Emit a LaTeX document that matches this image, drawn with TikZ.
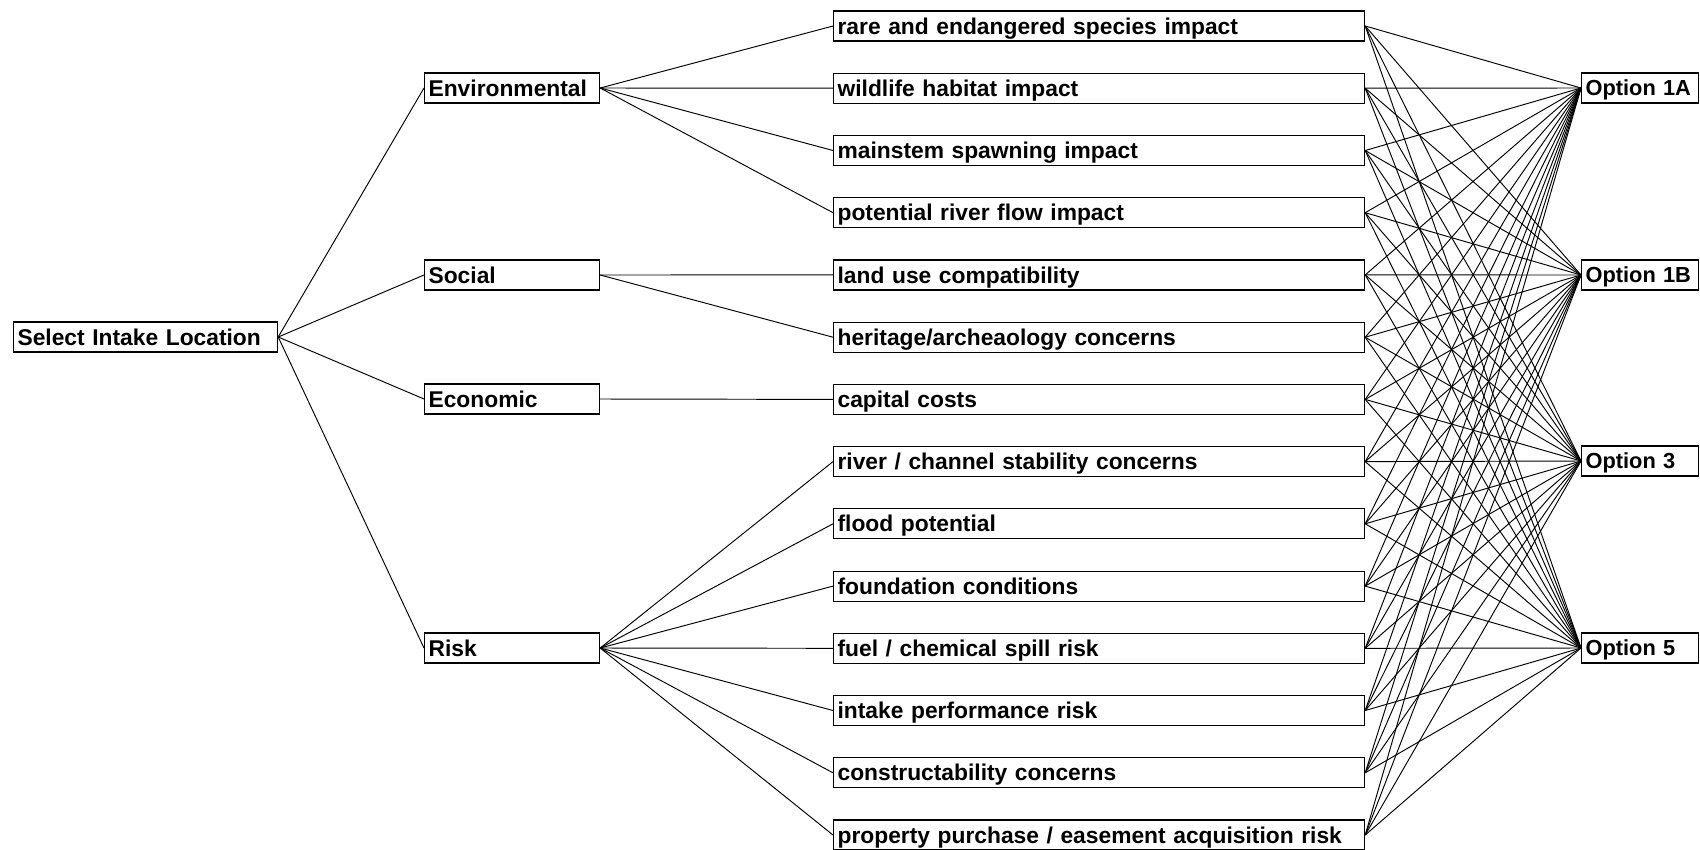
\documentclass[tikz,border=0pt]{standalone}
\usepackage{fontspec}
\setmainfont{Liberation Sans}
\begin{document}
\begin{tikzpicture}[x=1pt,y=-1pt,
  box/.style={draw, line width=1.2pt, rectangle, anchor=west, inner xsep=4pt, inner ysep=0pt,
    minimum height=30pt, align=left, text height=16.3pt, text depth=0pt,
    font=\fontsize{22.8}{27}\selectfont\bfseries},
  optbox/.style={box, inner xsep=4pt, text width=109pt, text height=15.6pt,
    font=\fontsize{21.8}{26}\selectfont\bfseries},
  link/.style={line width=0.95pt}]
\useasboundingbox (0,0) rectangle (1700,849);

% root
\node[box, text width=256pt] (root) at (13,337) {Select Intake Location};

% criteria
\node[box, text width=167pt] (env) at (424,88) {Environmental};
\node[box, text width=167pt] (soc) at (424,275) {Social};
\node[box, text width=167pt] (eco) at (424,399) {Economic};
\node[box, text width=167pt] (risk) at (424,648) {Risk};

% sub-criteria
\foreach \i/\yy/\t in {
  1/26/{rare and endangered species impact},
  2/88.2/{wildlife habitat impact},
  3/150.5/{mainstem spawning impact},
  4/212.7/{potential river flow impact},
  5/274.9/{land use compatibility},
  6/337.2/{heritage/archeaology concerns},
  7/399.4/{capital costs},
  8/461.6/{river / channel stability concerns},
  9/523.8/{flood potential},
  10/586.1/{foundation conditions},
  11/648.3/{fuel / chemical spill risk},
  12/710.5/{intake performance risk},
  13/772.8/{constructability concerns},
  14/835/{property purchase / easement acquisition risk}}
  \node[box, text width=523pt] (m\i) at (833,\yy) {\t};

% options
\node[optbox] (o1) at (1581,88) {\mbox{Option 1A}};
\node[optbox] (o2) at (1581,275) {\mbox{Option 1B}};
\node[optbox] (o3) at (1581,461) {\mbox{Option 3}};
\node[optbox] (o4) at (1581,648) {\mbox{Option 5}};

% connectors
\foreach \c in {env,soc,eco,risk}
  \draw[link] (root.east) -- (\c.west);
\foreach \i in {1,2,3,4}
  \draw[link] (env.east) -- (m\i.west);
\foreach \i in {5,6}
  \draw[link] (soc.east) -- (m\i.west);
\draw[link] (eco.east) -- (m7.west);
\foreach \i in {8,...,14}
  \draw[link] (risk.east) -- (m\i.west);
\foreach \i in {1,...,14}
  \foreach \o in {o1,o2,o3,o4}
    \draw[link] (m\i.east) -- (\o.west);
\end{tikzpicture}
\end{document}
